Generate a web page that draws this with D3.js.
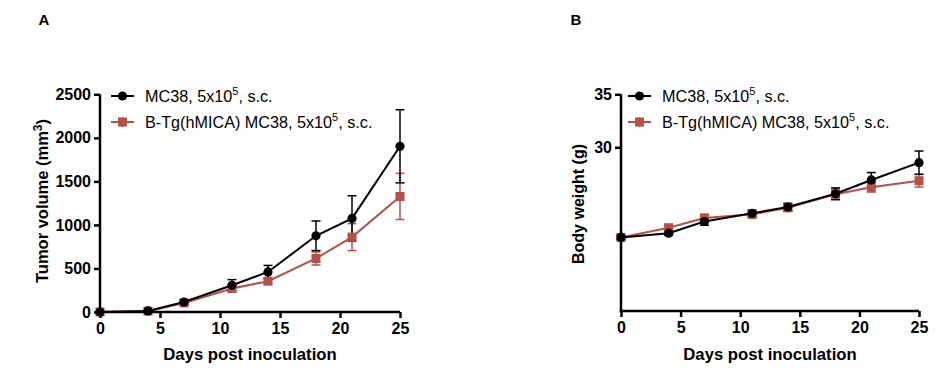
<!DOCTYPE html>
<html><head><meta charset="utf-8">
<script src="https://cdn.jsdelivr.net/npm/d3@7"></script>
<style>body{margin:0;background:#fff}svg{display:block;font-family:"Liberation Sans",Arial,sans-serif}</style>
</head><body><svg id="c" width="943" height="377"></svg>
<script>
const days = [0, 4, 7, 11, 14, 18, 21, 25];
const seriesNames = ["MC38, 5x10", "B-Tg(hMICA) MC38, 5x10"];
const colors = ["#000000", "#b5504b"];
// Panel A: tumor volume (mm3)
const tumorWT = [0, 12, 115, 307, 460, 875, 1075, 1903];
const tumorWTErr = [0, 8, 25, 65, 75, 170, 260, 420];
const tumorTg = [0, 10, 104, 270, 354, 615, 860, 1327];
const tumorTgErr = [0, 8, 20, 35, 30, 75, 155, 265];
// Panel B: body weight (g)
const weightWT = [21.5, 21.9, 23.0, 23.77, 24.37, 25.62, 26.92, 28.55];
const weightWTErr = [0.2, 0.2, 0.35, 0.3, 0.35, 0.55, 0.7, 1.1];
const weightTg = [21.5, 22.42, 23.33, 23.68, 24.3, 25.57, 26.23, 26.85];
const weightTgErr = [0.2, 0.25, 0.35, 0.35, 0.35, 0.5, 0.45, 0.6];
const xTicks = [0, 5, 10, 15, 20, 25];
const tumorTicks = [0, 500, 1000, 1500, 2000, 2500];
const weightTicks = [30, 35];

const svg = d3.select("#c");

function panel(o) {
  const g = svg.append("g");
  const x = d3.scaleLinear().domain([0, 25]).range([o.x0, o.x1]);
  const y = d3.scaleLinear().domain(o.ydom).range([o.yb, o.yt]);
  const sets = [
    {v: o.tg, e: o.tgErr, c: colors[1], shape: "square"},
    {v: o.wt, e: o.wtErr, c: colors[0], shape: "circle"}
  ];
  sets.forEach(s => {
    const eb = g.append("g").attr("stroke", s.c).attr("stroke-width", 1.5);
    days.forEach((d, i) => {
      if (s.e[i] <= 0) return;
      const cx = x(d), t = y(s.v[i] + s.e[i]), b = y(s.v[i] - s.e[i]);
      eb.append("line").attr("x1", cx).attr("x2", cx).attr("y1", t).attr("y2", b);
      eb.append("line").attr("x1", cx - 4.5).attr("x2", cx + 4.5).attr("y1", t).attr("y2", t);
      eb.append("line").attr("x1", cx - 4.5).attr("x2", cx + 4.5).attr("y1", b).attr("y2", b);
    });
  });
  sets.forEach(s => {
    const line = d3.line().x((d, i) => x(days[i])).y(d => y(d));
    g.append("path").datum(s.v).attr("d", line).attr("fill", "none")
      .attr("stroke", s.c).attr("stroke-width", 2);
    days.forEach((d, i) => {
      if (s.shape === "circle") {
        g.append("circle").attr("cx", x(d)).attr("cy", y(s.v[i])).attr("r", 4.6).attr("fill", s.c);
      } else {
        g.append("rect").attr("x", x(d) - 4.5).attr("y", y(s.v[i]) - 4.5)
          .attr("width", 9).attr("height", 9).attr("fill", s.c);
      }
    });
  });
  const xa = g.append("g").attr("transform", `translate(0,${o.yb})`)
    .call(d3.axisBottom(x).tickValues(xTicks).tickFormat(d3.format("d")).tickSize(6).tickPadding(5).tickSizeOuter(0));
  const ya = g.append("g").attr("transform", `translate(${o.x0},0)`)
    .call(d3.axisLeft(y).tickValues(o.yticks).tickFormat(d3.format("d")).tickSize(6).tickPadding(3).tickSizeOuter(0));
  [xa, ya].forEach(a => {
    a.select(".domain").attr("stroke-width", 2.5).attr("stroke", "#000");
    a.selectAll(".tick line").attr("stroke-width", 2.5).attr("stroke", "#000");
    a.selectAll(".tick text").attr("font-size", 16).attr("font-weight", "bold").attr("fill", "#000")
      .attr("font-family", "Liberation Sans, Arial, sans-serif");
  });
  ya.select(".domain").attr("d", `M0,${o.yt}V${o.yb + 1.25}`);
  xa.select(".domain").attr("d", `M${o.x0 - 1.25},0H${o.x1}`);
  g.append("text").attr("x", (o.x0 + o.x1) / 2).attr("y", 360).attr("text-anchor", "middle")
    .attr("font-size", 16.7).attr("font-weight", "bold").text("Days post inoculation");
  const yt = g.append("text").attr("transform", `translate(${o.ylx},${o.yly}) rotate(-90)`)
    .attr("text-anchor", "middle").attr("font-size", o.ylfs).attr("font-weight", "bold");
  if (o.sup) {
    yt.append("tspan").text(o.ylabel);
    yt.append("tspan").attr("font-size", 12).attr("dy", -6).text(o.sup);
    yt.append("tspan").attr("dy", 6).text(")");
  } else yt.text(o.ylabel);
  g.append("text").attr("x", o.lx).attr("y", 25).attr("font-size", 15).attr("font-weight", "bold")
    .attr("text-anchor", "middle").text(o.letter);
  const lg = g.append("g");
  [0, 1].forEach(k => {
    const ly = o.legY + k * 26;
    const c = colors[k];
    lg.append("line").attr("x1", o.legX).attr("x2", o.legX + 23).attr("y1", ly).attr("y2", ly)
      .attr("stroke", c).attr("stroke-width", 2);
    const mx = o.legX + 11.5;
    if (k === 0) lg.append("circle").attr("cx", mx).attr("cy", ly).attr("r", 4.6).attr("fill", c);
    else {
      lg.append("rect").attr("x", mx - 4.5).attr("y", ly - 4.5).attr("width", 9).attr("height", 9).attr("fill", c);
      lg.append("line").attr("x1", mx).attr("x2", mx).attr("y1", ly - 5).attr("y2", ly + 5).attr("stroke", c).attr("stroke-width", 1.5);
    }
    const t = lg.append("text").attr("x", o.legX + 34).attr("y", ly + 6).attr("font-size", 16.2).attr("fill", "#000");
    t.append("tspan").text(seriesNames[k]);
    t.append("tspan").attr("font-size", 11).attr("dy", -7).text("5");
    t.append("tspan").attr("dy", 7).text(", s.c.");
  });
}

panel({x0: 100, x1: 400, yb: 312, yt: 94.3, ydom: [0, 2500], yticks: tumorTicks,
  wt: tumorWT, wtErr: tumorWTErr, tg: tumorTg, tgErr: tumorTgErr,
  ylabel: "Tumor volume (mm", sup: "3", ylx: 48, yly: 201, ylfs: 16.5, letter: "A", lx: 44,
  legX: 111, legY: 96});
panel({x0: 621, x1: 919, yb: 311, yt: 94.3, ydom: [14.56, 35], yticks: weightTicks,
  wt: weightWT, wtErr: weightWTErr, tg: weightTg, tgErr: weightTgErr,
  ylabel: "Body weight (g)", ylx: 584, yly: 204, ylfs: 16, letter: "B", lx: 576,
  legX: 628, legY: 96});
</script></body></html>
